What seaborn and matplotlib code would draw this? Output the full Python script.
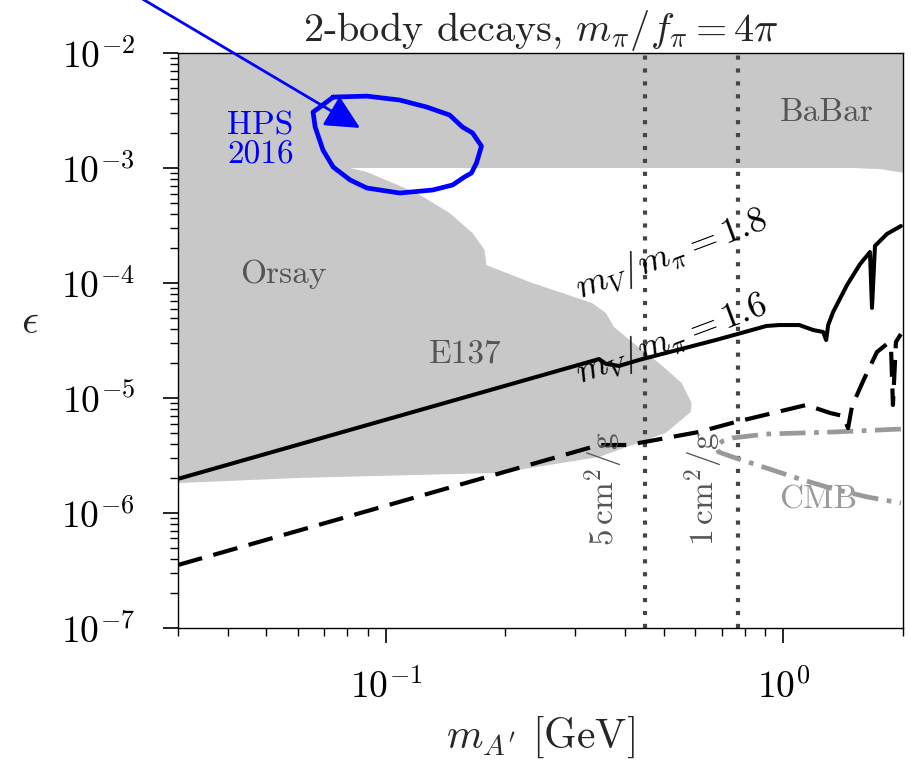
import matplotlib
matplotlib.use("Agg")
import matplotlib.pyplot as plt
import seaborn as sns

# ---------------- data ----------------
# excluded region (Orsay + E137 + BaBar), one grey polygon
excl_x = [0.03, 2.0, 2.0, 1.75, 1.5, 0.0813, 0.0896, 0.1196, 0.1447, 0.1652,
          0.1771, 0.1791, 0.2335, 0.3303, 0.358, 0.375, 0.4159, 0.486, 0.5549,
          0.5878, 0.585, 0.506, 0.3438, 0.1931, 0.0609, 0.03]
excl_y = [1e-2, 1e-2, 9.1e-4, 9.8e-4, 1e-3, 1e-3, 9.23e-4, 6.06e-4, 4.06e-4, 2.72e-4,
          1.94e-4, 1.43e-4, 1.0e-4, 6.7e-5, 5.48e-5, 4.14e-5, 3.07e-5, 2.02e-5, 1.35e-5,
          9.05e-6, 7.55e-6, 4.97e-6, 3.07e-6, 2.23e-6, 2.02e-6, 1.82e-6]

# HPS 2016 contour
hps_x = [0.0737, 0.0896, 0.1084, 0.1267, 0.1447, 0.1559, 0.1652, 0.1740, 0.1691,
         0.1642, 0.1577, 0.1472, 0.1312, 0.1084, 0.0896, 0.0813, 0.0737, 0.0695,
         0.0664, 0.0656, 0.0683, 0.0737]
hps_y = [4.14e-3, 4.22e-3, 3.90e-3, 3.39e-3, 2.89e-3, 2.27e-3, 2.02e-3, 1.55e-3, 1.11e-3,
         9.05e-4, 8.36e-4, 7.12e-4, 6.44e-4, 6.06e-4, 6.70e-4, 7.87e-4, 1.02e-3, 1.43e-3,
         2.27e-3, 3.07e-3, 3.39e-3, 4.14e-3]

# m_V/m_pi = 1.6 (solid)
solid_x = [0.03, 0.3438, 0.358, 0.386, 0.4331, 0.6754, 0.767, 0.9066, 0.9772, 1.0966,
           1.189, 1.2596, 1.2816, 1.2966, 1.3346, 1.4464, 1.5596, 1.652, 1.6713,
           1.7005, 1.8223, 1.976]
solid_y = [1.98e-6, 2.18e-5, 1.98e-5, 1.90e-5, 2.14e-5, 3.19e-5, 3.60e-5, 4.23e-5, 4.31e-5,
           4.31e-5, 3.90e-5, 3.75e-5, 3.19e-5, 4.31e-5, 5.60e-5, 9.61e-5, 1.46e-4, 1.86e-4,
           6.07e-5, 2.10e-4, 2.67e-4, 3.13e-4]

# m_V/m_pi = 1.8 (dashed)
dash_x = [0.03, 0.3438, 0.4089, 0.4331, 0.6123, 0.7581, 1.142, 1.311, 1.414, 1.455,
          1.489, 1.596, 1.72, 1.822, 1.865, 1.887, 1.92, 1.976]
dash_y = [3.53e-7, 3.90e-6, 3.90e-6, 4.06e-6, 5.06e-6, 6.18e-6, 8.69e-6, 7.41e-6, 6.97e-6,
          5.48e-6, 8.51e-6, 1.46e-5, 2.51e-5, 2.95e-5, 2.89e-5, 8.69e-6, 3.07e-5, 3.60e-5]

# CMB bound (grey dash-dot)
cmb_x = [1.976, 1.334, 0.9066, 0.745, 0.7035, 0.6795, 0.6874, 0.745, 0.9066, 1.097,
         1.334, 1.624, 1.976]
cmb_y = [5.37e-6, 5.06e-6, 4.86e-6, 4.49e-6, 4.22e-6, 3.83e-6, 3.39e-6, 3.07e-6, 2.46e-6,
         1.98e-6, 1.62e-6, 1.38e-6, 1.22e-6]

# self-interaction cross-section lines (vertical dotted)
sigma_masses = [0.45, 0.77]
sigma_labels = [r"$5\,\mathrm{cm}^2/\mathrm{g}$", r"$1\,\mathrm{cm}^2/\mathrm{g}$"]

# ---------------- style ----------------
sns.set_theme(style="ticks")
plt.rcParams.update({
    "font.family": "serif",
    "font.serif": ["cmr10", "DejaVu Serif"],
    "mathtext.fontset": "cm",
    "axes.formatter.use_mathtext": True,
    "axes.edgecolor": "black",
    "axes.linewidth": 1.0,
    "xtick.color": "black",
    "ytick.color": "black",
})

fig = plt.figure(figsize=(9.11, 7.62), dpi=100)
ax = fig.add_axes([0.1954, 0.1759, 0.7958, 0.7545])
ax.set_xscale("log")
ax.set_yscale("log")

ax.fill(excl_x, excl_y, color="#c8c8c8", lw=0, zorder=0)

for m in sigma_masses:
    ax.axvline(m, color="#454545", lw=3, linestyle=(0, (1, 2.1)), zorder=1)

sns.lineplot(x=cmb_x, y=cmb_y, sort=False, estimator=None, ax=ax, color="#999999",
             lw=3.4, linestyle=(0, (5.5, 1.8, 1, 1.8)), zorder=2)
sns.lineplot(x=dash_x, y=dash_y, sort=False, estimator=None, ax=ax, color="black",
             lw=3.0, linestyle=(0, (6, 2.8)), zorder=3)
sns.lineplot(x=solid_x, y=solid_y, sort=False, estimator=None, ax=ax, color="black",
             lw=2.9, zorder=3)
sns.lineplot(x=hps_x, y=hps_y, sort=False, estimator=None, ax=ax, color="#0000ff",
             lw=3.4, zorder=4)

ax.annotate("", xy=(0.0861, 2.23e-3), xytext=(0.0203, 0.0431),
            xycoords="data", textcoords="data", annotation_clip=False,
            arrowprops=dict(arrowstyle="-|>,head_length=1.05,head_width=0.52",
                            color="#0000ff", lw=2.0, mutation_scale=20,
                            shrinkA=0, shrinkB=0), zorder=5)

ax.set_xlim(0.03, 2.0)
ax.set_ylim(1e-7, 1e-2)

lab_kw = dict(ha="center", va="center", fontsize=24)
ax.text(0.0483, 1.75e-3, "HPS\n2016", color="#0000ff", linespacing=1.0, **lab_kw)
ax.text(1.282, 3.07e-3, "BaBar", color="#555555", **lab_kw)
ax.text(0.0552, 1.20e-4, "Orsay", color="#555555", **lab_kw)
ax.text(0.1587, 2.41e-5, "E137", color="#555555", **lab_kw)
ax.text(1.224, 1.30e-6, "CMB", color="#9a9a9a", **lab_kw)
mv_kw = dict(ha="center", va="center", fontsize=26, rotation=20.5,
             rotation_mode="anchor", color="black")
ax.text(0.524, 1.75e-4, r"$m_V/m_\pi = 1.8$", **mv_kw)
ax.text(0.524, 3.19e-5, r"$m_V/m_\pi = 1.6$", **mv_kw)
for xpos, lab in zip([0.354, 0.634], sigma_labels):
    ax.text(xpos, 1.62e-6, lab, rotation=90, color="#555555", **lab_kw)

ax.set_title(r"2-body decays, $m_\pi/f_\pi = 4\pi$", fontsize=29, pad=8)
ax.set_xlabel(r"$m_{A'}$ [GeV]", fontsize=30, va="center")
ax.xaxis.set_label_coords(0.5, -0.19)
ax.set_ylabel(r"$\epsilon$", fontsize=30, rotation=0, va="center", ha="center")
ax.yaxis.set_label_coords(-0.204, 0.532)

ax.tick_params(which="major", direction="out", length=11, width=1.2, labelsize=27,
               top=False, right=False)
ax.tick_params(which="minor", direction="out", length=6, width=1.0,
               top=False, right=False)
ax.tick_params(axis="x", which="major", pad=18)
ax.tick_params(axis="y", which="major", pad=20)

for s in ax.spines.values():
    s.set_visible(True)
    s.set_color("black")

fig.savefig("out.png", dpi=100)
